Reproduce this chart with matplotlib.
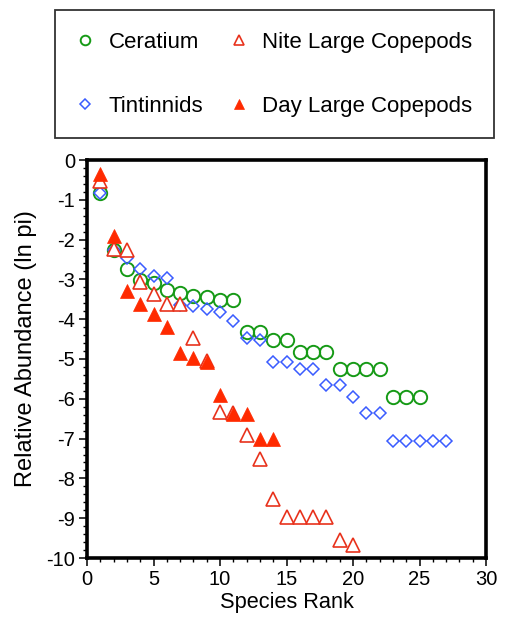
import matplotlib
matplotlib.use("Agg")
import matplotlib.pyplot as plt
from matplotlib.ticker import MultipleLocator

plt.rcParams['font.family'] = ['Liberation Sans', 'DejaVu Sans']
plt.rcParams['axes.unicode_minus'] = False

# ---- data ----
ceratium = [-0.82, -2.26, -2.74, -3.02, -3.1, -3.27, -3.35, -3.41, -3.43, -3.52,
            -3.52, -4.31, -4.31, -4.52, -4.52, -4.82, -4.82, -4.82, -5.24, -5.24,
            -5.24, -5.24, -5.95, -5.95, -5.95]
tintinnids = [-0.82, -2.26, -2.47, -2.75, -2.91, -2.96, -3.64, -3.66, -3.74, -3.81,
              -4.05, -4.47, -4.52, -5.08, -5.08, -5.25, -5.25, -5.65, -5.65, -5.96,
              -6.35, -6.35, -7.05, -7.05, -7.05, -7.05, -7.05]
nite_cope = [-0.52, -2.24, -2.26, -3.07, -3.37, -3.62, -3.62, -4.48, -5.05, -6.32,
             -6.36, -6.91, -7.51, -8.52, -8.96, -8.96, -8.96, -8.96, -9.55, -9.67]
day_cope = [-0.35, -1.9, -3.28, -3.62, -3.87, -4.19, -4.86, -4.98, -5.07, -5.9,
            -6.37, -6.37, -7.02, -7.02]

labels = ["Ceratium", "Tintinnids", "Nite Large Copepods", "Day Large Copepods"]
xlabel = "Species Rank"
ylabel = "Relative Abundance (ln pi)"

green = '#169a16'
blue = '#3a5cff'
red_open = '#e8321c'
red_fill = '#ff2a00'

def ranks(v):
    return list(range(1, len(v) + 1))

fig = plt.figure(figsize=(5.05, 6.18), dpi=100)
ax = fig.add_axes([87/505, 1-558/618, (486-87)/505, (558-160)/618])

h1, = ax.plot(ranks(ceratium), ceratium, linestyle='none', marker='o', ms=9.6,
              mfc='none', mec=green, mew=1.4, label=labels[0])
h2, = ax.plot(ranks(tintinnids), tintinnids, linestyle='none', marker='D', ms=6.6,
              mfc='none', mec=blue, mew=1.1, label=labels[1])
h3, = ax.plot(ranks(nite_cope), nite_cope, linestyle='none', marker='^', ms=9.4,
              mfc='white', mec=red_open, mew=1.2, label=labels[2])
h4, = ax.plot(ranks(day_cope), day_cope, linestyle='none', marker='^', ms=9.6,
              mfc=red_fill, mec=red_fill, mew=0.5, label=labels[3])

ax.set_xlim(0, 30)
ax.set_ylim(-10, 0)
ax.xaxis.set_major_locator(MultipleLocator(5))
ax.xaxis.set_minor_locator(MultipleLocator(1))
ax.yaxis.set_major_locator(MultipleLocator(1))
ax.yaxis.set_minor_locator(MultipleLocator(0.2))
ax.tick_params(which='major', direction='out', length=5.5, width=1.1, labelsize=14.5, pad=3)
ax.tick_params(which='minor', direction='out', length=3, width=1.0)
ax.tick_params(top=False, right=False)
for s in ax.spines.values():
    s.set_linewidth(2.6)
ax.set_xlabel(xlabel, fontsize=15.7, labelpad=2)
ax.set_ylabel(ylabel, fontsize=17)
ax.yaxis.set_label_coords(-0.125, 0.525)

leg = fig.legend(handles=[h1, h2, h3, h4], ncol=2,
                 bbox_to_anchor=(55/505, 1-10/618),
                 loc='upper left', borderaxespad=0, fontsize=16,
                 markerscale=0.72, handlelength=0.8, handletextpad=0.65,
                 labelspacing=1.95, borderpad=0.97, columnspacing=1.2,
                 frameon=True, fancybox=False, edgecolor='black')
leg.get_frame().set_linewidth(1.3)

fig.savefig("out.png", dpi=100)
